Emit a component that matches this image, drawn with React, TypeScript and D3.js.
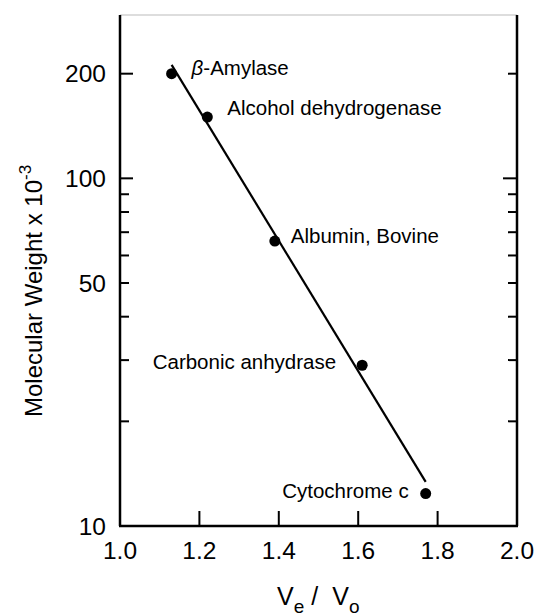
import * as d3 from "d3";
import React from "react";

// protein standards: elution ratio Ve/Vo vs molecular weight (x 10^-3)
const proteins = ["β-Amylase", "Alcohol dehydrogenase", "Albumin, Bovine", "Carbonic anhydrase", "Cytochrome c"]
const veVo = [1.13, 1.22, 1.39, 1.61, 1.77]
const mw = [200, 150, 66, 29, 12.4]

// fitted line end points
const fitX = [1.13, 1.77]
const fitY = [212, 13.4]

const xTicks = [1.0, 1.2, 1.4, 1.6, 1.8, 2.0]
const yLabels = [10, 50, 100, 200]
const yMinor = [20, 30, 40, 50, 60, 70, 80, 90, 100, 200]

const W = 537
const H = 616
const left = 120, right = 517, top = 15, bottom = 526
const font = "'Liberation Sans', Arial, Helvetica, sans-serif"

// label placement: side and nudges relative to the dot
const labelSide = ["start", "start", "start", "end", "end"]
const labelDx = [20, 20, 16, -26, -17]
const labelDy = [1, -2, 2, 4, 4]

export function App() {
  const x = d3.scaleLinear().domain([1.0, 2.0]).range([left, right])
  const y = d3.scaleLog().domain([10, 295]).range([bottom, top])

  const fit = d3.line<number>()
    .x((d, i) => x(fitX[i]))
    .y((d) => y(d))(fitY)

  return (
    <svg width={W} height={H} style={{ position: "absolute", left: 0, top: 0, background: "#fff" }} fontFamily={font}>
      {/* frame */}
      <line x1={left} x2={right} y1={top} y2={top} stroke="#bbb" strokeWidth={1} />
      <line x1={left} x2={left} y1={top} y2={bottom} stroke="#000" strokeWidth={2.5} />
      <line x1={right} x2={right} y1={top} y2={bottom} stroke="#000" strokeWidth={2.5} />
      <line x1={left - 1} x2={right + 1} y1={bottom} y2={bottom} stroke="#000" strokeWidth={2.5} />

      {/* y ticks */}
      {yMinor.map((v) => {
        const longL = v === 100 || v === 200
        const longR = v === 100
        return (
          <g key={v}>
            <line x1={left} x2={left + (longL ? 13 : 9)} y1={y(v)} y2={y(v)} stroke="#000" strokeWidth={2} />
            <line x1={right} x2={right - (longR ? 14 : 9)} y1={y(v)} y2={y(v)} stroke="#000" strokeWidth={2} />
          </g>
        )
      })}
      {yLabels.map((v) => (
        <text key={v} x={106} y={y(v)} dy="0.35em" textAnchor="end" fontSize={24.5}>{v}</text>
      ))}

      {/* x ticks */}
      {xTicks.map((v, i) => (
        <g key={v}>
          {i > 0 && i < xTicks.length - 1 &&
            <line x1={x(v)} x2={x(v)} y1={bottom} y2={bottom - 15} stroke="#000" strokeWidth={2} />}
          <text x={x(v)} y={bottom + 33} textAnchor="middle" fontSize={24.5}>{v.toFixed(1)}</text>
        </g>
      ))}

      {/* fit line */}
      <path d={fit ?? ""} fill="none" stroke="#000" strokeWidth={2.2} />

      {/* points + labels */}
      {proteins.map((p, i) => (
        <g key={p}>
          <circle cx={x(veVo[i])} cy={y(mw[i])} r={5.5} fill="#000" />
          <text x={x(veVo[i]) + labelDx[i]} y={y(mw[i]) + labelDy[i]}
            textAnchor={labelSide[i]} fontSize={20.5}>
            {p.startsWith("β")
              ? <><tspan fontStyle="italic">β</tspan>{p.slice(1)}</>
              : p}
          </text>
        </g>
      ))}

      {/* axis titles */}
      <text transform="translate(42, 417) rotate(-90)" fontSize={24}>
        Molecular Weight x 10<tspan fontSize={17} dy={-11}>-3</tspan>
      </text>
      <text x={277} y={605} fontSize={25}>
        V<tspan fontSize={19} dy={8}>e</tspan>
        <tspan dy={-8} dx={7}>/</tspan>
        <tspan dx={14}>V</tspan><tspan fontSize={19} dy={8}>o</tspan>
      </text>
    </svg>
  )
}

export default App;
